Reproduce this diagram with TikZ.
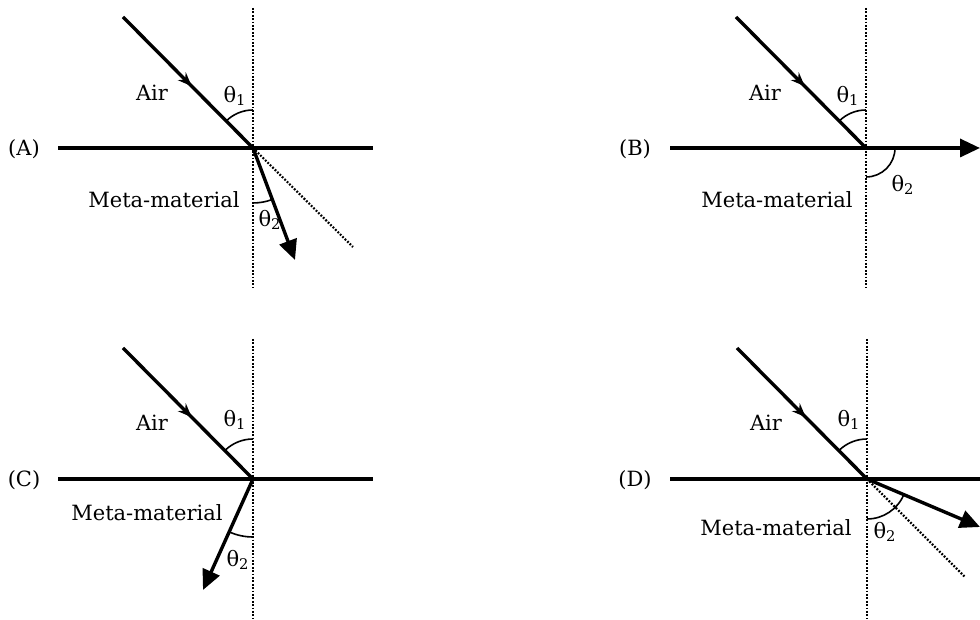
\documentclass[tikz,border=0pt]{standalone}
\usepackage{fontspec}
\setmainfont{DejaVu Serif}
\usetikzlibrary{arrows.meta,decorations.markings}

\begin{document}
\begin{tikzpicture}[x=0.5pt, y=0.5pt,
  surf/.style={line width=1.7pt},
  normline/.style={line width=1.1pt, dash pattern=on 0.9pt off 0.8pt},
  inray/.style={line width=1.7pt, postaction={decorate},
    decoration={markings, mark=at position 0.53 with {\arrow{Stealth[length=7pt,width=5.5pt]}}}},
  outray/.style={line width=1.7pt, -{Triangle[length=10pt,width=9pt]}},
  angarc/.style={line width=0.8pt},
  lbl/.style={font=\fontsize{10.5}{12}\selectfont, inner sep=0pt},
]
\useasboundingbox (0,0) rectangle (980,620);

% (A)
\begin{scope}[shift={(253,472)}]
\coordinate (OA) at (0,0);
\coordinate (LA) at (-195,0);
\coordinate (RA) at (120,0);
\coordinate (TA) at (0,140);
\coordinate (BA) at (0,-140);
\coordinate (SA) at (-130,131);
\coordinate (EA) at (42,-112);
\coordinate (DA) at (100,-99);
\draw[surf] (LA) -- (RA);
\draw[normline] (TA) -- (BA);
\draw[normline] (OA) -- (DA);
\draw[inray] (SA) -- (OA);
\draw[outray] (OA) -- (EA);
\draw[angarc] (0,38) arc[start angle=90, end angle=135, radius=38];
\draw[angarc] (0,-55) arc[start angle=-90, end angle=-69.4, radius=55];
\node[lbl] (labA) at (-229,-1) {(A)};
\node[lbl] (airA) at (-101,55) {Air};
\node[lbl] (t1A) at (-18,52) {θ\textsubscript{1}};
\node[lbl, anchor=east] (metaA) at (-13,-52) {Meta-material};
\node[lbl] (t2A) at (17,-72) {θ\textsubscript{2}};
\end{scope}

% (B)
\begin{scope}[shift={(866,472)}]
\coordinate (OB) at (0,0);
\coordinate (LB) at (-196,0);
\coordinate (TB) at (0,140);
\coordinate (BB) at (0,-140);
\coordinate (SB) at (-130,131);
\coordinate (EB) at (114,0);
\draw[surf] (LB) -- (OB);
\draw[normline] (TB) -- (BB);
\draw[inray] (SB) -- (OB);
\draw[outray] (OB) -- (EB);
\draw[angarc] (0,38) arc[start angle=90, end angle=135, radius=38];
\draw[angarc] (0,-29) arc[start angle=-90, end angle=0, radius=29];
\node[lbl] (labB) at (-231,-1) {(B)};
\node[lbl] (airB) at (-101,55) {Air};
\node[lbl] (t1B) at (-18,52) {θ\textsubscript{1}};
\node[lbl, anchor=east] (metaB) at (-13,-52) {Meta-material};
\node[lbl] (t2B) at (37,-37) {θ\textsubscript{2}};
\end{scope}

% (C)
\begin{scope}[shift={(253,141)}]
\coordinate (OC) at (0,0);
\coordinate (LC) at (-195,0);
\coordinate (RC) at (120,0);
\coordinate (TC) at (0,140);
\coordinate (BC) at (0,-140);
\coordinate (SC) at (-130,131);
\coordinate (EC) at (-50,-111);
\draw[surf] (LC) -- (RC);
\draw[normline] (TC) -- (BC);
\draw[inray] (SC) -- (OC);
\draw[outray] (OC) -- (EC);
\draw[angarc] (0,40) arc[start angle=90, end angle=135, radius=40];
\draw[angarc] (0,-58) arc[start angle=-90, end angle=-114.2, radius=58];
\node[lbl] (labC) at (-229,-1) {(C)};
\node[lbl] (airC) at (-101,56) {Air};
\node[lbl] (t1C) at (-18,59) {θ\textsubscript{1}};
\node[lbl, anchor=east] (metaC) at (-30,-34) {Meta-material};
\node[lbl] (t2C) at (-15,-81) {θ\textsubscript{2}};
\end{scope}

% (D)
\begin{scope}[shift={(867,141)}]
\coordinate (OD) at (0,0);
\coordinate (LD) at (-197,0);
\coordinate (RD) at (113,0);
\coordinate (TD) at (0,140);
\coordinate (BD) at (0,-140);
\coordinate (SD) at (-130,131);
\coordinate (ED) at (113,-48);
\coordinate (DD) at (98,-98);
\draw[surf] (LD) -- (RD);
\draw[normline] (TD) -- (BD);
\draw[normline] (OD) -- (DD);
\draw[inray] (SD) -- (OD);
\draw[outray] (OD) -- (ED);
\draw[angarc] (0,40) arc[start angle=90, end angle=135, radius=40];
\draw[angarc] (0,-40) arc[start angle=-90, end angle=-23, radius=40];
\node[lbl] (labD) at (-232,-1) {(D)};
\node[lbl] (airD) at (-101,56) {Air};
\node[lbl] (t1D) at (-18,59) {θ\textsubscript{1}};
\node[lbl, anchor=east] (metaD) at (-15,-49) {Meta-material};
\node[lbl] (t2D) at (18,-53) {θ\textsubscript{2}};
\end{scope}
\end{tikzpicture}
\end{document}
